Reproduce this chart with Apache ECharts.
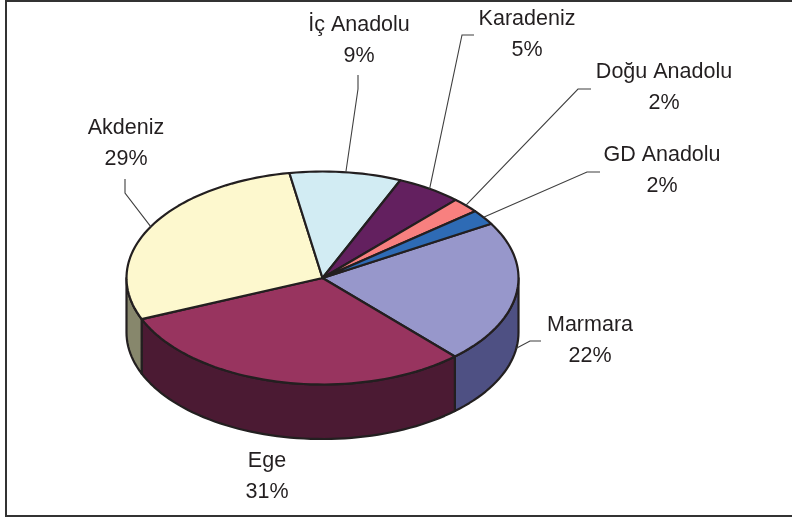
<!DOCTYPE html>
<html>
<head>
<meta charset="utf-8">
<style>
  html, body { margin: 0; padding: 0; background: #fff; }
  #chart { width: 792px; height: 517px; }
</style>
<script src="https://cdn.jsdelivr.net/npm/echarts@6/dist/echarts.min.js"></script>
</head>
<body>
<div id="chart"></div>
<script>
const regions = ['Marmara', 'Ege', 'Akdeniz', 'İç Anadolu', 'Karadeniz', 'Doğu Anadolu', 'GD Anadolu']
const shares = [21.7, 30.5, 28.6, 9.2, 5.4, 2.3, 2.3]

const topColors = ['#9797cb', '#98345f', '#fdf8ce', '#d2ecf3', '#63205f', '#f8807f', '#2e6bb5']
const sideColors = ['#4e5083', '#4b1a33', '#87876c', '#6a767a', '#321030', '#7c4040', '#17365b']

// pie layout, angles run clockwise from 3 o'clock
const cx = 322.5
const cy = 278
const rx = 196
const ry = 106.5
const depth = 54.5
const startAngle = -30.6
const outline = '#231f20'
const leaderColor = '#3f3f3f'
const labelFont = '21.5px "Liberation Sans", Arial, sans-serif'

// label centre and leader elbow for each region, null = no leader
const labelPos = [
  { x: 590, y: 325, leader: [[541, 341], [530, 341]] },
  { x: 267, y: 461, leader: null },
  { x: 126, y: 128, leader: [[125, 179], [125, 193]] },
  { x: 359, y: 25, leader: [[358, 75], [358, 89]] },
  { x: 527, y: 19, leader: [[474, 35], [462, 35]] },
  { x: 664, y: 72, leader: [[591, 89], [578, 89]] },
  { x: 662, y: 155, leader: [[600, 172], [587, 172]] },
]

const total = shares.reduce((sum, v) => sum + v, 0)

function sliceRange(index) {
  const before = shares.slice(0, index).reduce((sum, v) => sum + v, 0)
  const from = startAngle + (before / total) * 360
  return [from, from + (shares[index] / total) * 360]
}

function rimPoint(deg, drop) {
  const rad = (deg * Math.PI) / 180
  return [cx + rx * Math.cos(rad), cy + ry * Math.sin(rad) + drop]
}

function arcPoints(from, to, drop) {
  const steps = Math.max(2, Math.ceil(Math.abs(to - from) / 2))
  return Array.from({ length: steps + 1 }, (_, i) => rimPoint(from + ((to - from) * i) / steps, drop))
}

function renderSide(params) {
  const [from, to] = sliceRange(params.dataIndex)
  const a = Math.max(from, 0)
  const b = Math.min(to, 180)
  if (b <= a) {
    return { type: 'group', children: [] }
  }
  return {
    type: 'polygon',
    shape: { points: [...arcPoints(a, b, 0), ...arcPoints(b, a, depth)] },
    style: { fill: sideColors[params.dataIndex], stroke: outline, lineWidth: 2.2, lineJoin: 'round' },
  }
}

function renderTop(params) {
  const [from, to] = sliceRange(params.dataIndex)
  return {
    type: 'polygon',
    shape: { points: [[cx, cy], ...arcPoints(from, to, 0)] },
    style: { fill: topColors[params.dataIndex], stroke: outline, lineWidth: 2.2, lineJoin: 'round' },
  }
}

function renderLabel(params) {
  const index = params.dataIndex
  const [from, to] = sliceRange(index)
  const pos = labelPos[index]
  const children = [
    {
      type: 'text',
      style: {
        x: pos.x,
        y: pos.y,
        text: regions[index],
        fill: outline,
        font: labelFont,
        align: 'center',
        verticalAlign: 'middle',
      },
    },
    {
      type: 'text',
      style: {
        x: pos.x,
        y: pos.y + 31,
        text: `${Math.round(shares[index])}%`,
        fill: outline,
        font: labelFont,
        align: 'center',
        verticalAlign: 'middle',
      },
    },
  ]
  if (pos.leader) {
    const mid = (from + to) / 2
    const onFront = Math.sin((mid * Math.PI) / 180) > 0
    const anchor = rimPoint(mid, onFront ? depth : 0)
    children.push({
      type: 'polyline',
      shape: { points: [...pos.leader, anchor] },
      style: { stroke: leaderColor, lineWidth: 1.1, fill: null },
    })
  }
  return { type: 'group', children }
}

const chart = echarts.init(document.getElementById('chart'), null, { renderer: 'canvas' })
chart.setOption({
  animation: false,
  backgroundColor: '#ffffff',
  graphic: [
    {
      type: 'rect',
      shape: { x: 6, y: 1, width: 790, height: 515 },
      style: { fill: null, stroke: '#333333', lineWidth: 2 },
      silent: true,
    },
  ],
  series: [
    { type: 'custom', coordinateSystem: 'none', data: shares, renderItem: renderSide, z: 1, silent: true },
    { type: 'custom', coordinateSystem: 'none', data: shares, renderItem: renderTop, z: 2, silent: true },
    { type: 'custom', coordinateSystem: 'none', data: shares, renderItem: renderLabel, z: 3, silent: true },
  ],
})
</script>
</body>
</html>
